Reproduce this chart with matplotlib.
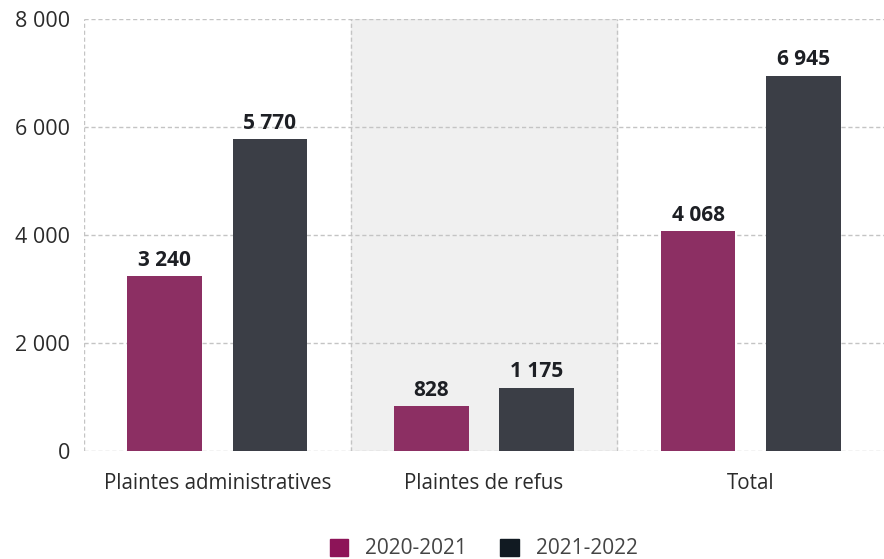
import matplotlib.pyplot as plt
import matplotlib.ticker as ticker
import numpy as np

categories = ["Plaintes administratives", "Plaintes de refus", "Total"]
series_names = ["2020-2021", "2021-2022"]
values_2020 = [3240, 828, 4068]
values_2021 = [5770, 1175, 6945]

bar_colors = ["#8c2f63", "#3b3e46"]
legend_colors = ["#8d1458", "#111a22"]

plt.rcParams["font.family"] = ["Open Sans", "DejaVu Sans"]

fig = plt.figure(figsize=(8.84, 5.59), dpi=100)
ax = fig.add_axes([0.095, 0.193, 0.905, 0.773])

x = np.arange(len(categories))
width = 0.28
offset = 0.197

# shaded middle group
ax.axvspan(0.5, 1.5, color="#f0f0f0", zorder=0)

for i, (vals, col) in enumerate(zip([values_2020, values_2021], bar_colors)):
    pos = x + (-offset if i == 0 else offset)
    bars = ax.bar(pos, vals, width=width, color=col, zorder=3)
    for b, v in zip(bars, vals):
        label = f"{v:,}".replace(",", " ")
        ax.annotate(label, (b.get_x() + b.get_width() / 2, v),
                    xytext=(0, 4), textcoords="offset points",
                    ha="center", va="bottom", fontsize=15, fontweight="bold",
                    color="#1d1f24", zorder=4)

ax.set_xlim(-0.5, 2.5)
ax.set_ylim(0, 8000)
ax.yaxis.set_major_locator(ticker.MultipleLocator(2000))
ax.yaxis.set_major_formatter(ticker.FuncFormatter(lambda v, p: f"{int(v):,}".replace(",", " ")))

ax.grid(axis="y", linestyle=(0, (3, 2)), color="#c4c4c4", linewidth=1, zorder=1)
for xv in [-0.5, 0.5, 1.5]:
    ax.axvline(xv, linestyle=(0, (3, 2)), color="#c4c4c4", linewidth=1, zorder=1)

for s in ax.spines.values():
    s.set_visible(False)

ax.set_xticks(x)
ax.set_xticklabels(categories, fontsize=14.8, color="#2b2b2b")
ax.tick_params(axis="x", length=0, pad=16)
ax.tick_params(axis="y", length=0, pad=10, labelsize=15.5, labelcolor="#2b2b2b")

handles = [plt.Rectangle((0, 0), 1, 1, color=c) for c in legend_colors]
fig.legend(handles, series_names, loc="center", bbox_to_anchor=(0.547, 0.018),
           ncol=2, frameon=False, fontsize=15, handlelength=0.9, handleheight=0.9,
           columnspacing=1.6, handletextpad=0.8, labelcolor="#444444")

plt.savefig("out.png", dpi=100)
plt.close()
